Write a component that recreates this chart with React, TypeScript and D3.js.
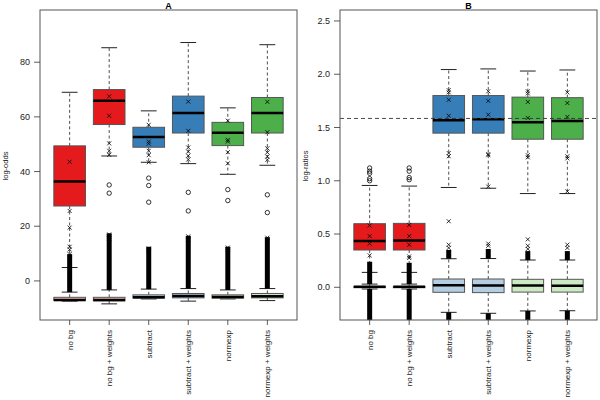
import React from 'react';
import * as d3 from 'd3';

const categories = ['no bg', 'no bg + weights', 'subtract', 'subtract + weights', 'normexp', 'normexp + weights'];
const darkColors = ['#E41A1C', '#E41A1C', '#377EB8', '#377EB8', '#4DAF4A', '#4DAF4A'];
const lightColors = ['#FBB4AE', '#FBB4AE', '#B3CDE3', '#B3CDE3', '#CCEBC5', '#CCEBC5'];

// Panel A: log-odds, boxes of DE genes
const aDeLow = [4.9, 45.7, 43.4, 42.9, 39.0, 42.3];
const aDeQ1 = [27.4, 57.2, 48.9, 54.1, 49.5, 54.1];
const aDeMed = [36.4, 65.9, 52.6, 61.4, 54.2, 61.4];
const aDeQ3 = [49.4, 70.0, 56.2, 67.6, 58.0, 67.1];
const aDeHigh = [69.0, 85.3, 62.2, 87.2, 63.3, 86.4];
const aDeOutliers = [[], [35.1, 32.1], [37.6, 34.9, 28.8], [32.4, 25.6], [33.4, 29.4], [31.5, 25.0]];
// Panel A: boxes of non-DE genes
const aNullLow = [-7.4, -8.4, -6.6, -7.4, -6.6, -7.2];
const aNullQ1 = [-7.2, -7.3, -6.3, -6.2, -6.3, -6.2];
const aNullMed = [-7.0, -7.0, -6.0, -5.5, -5.9, -5.6];
const aNullQ3 = [-6.0, -6.0, -5.1, -4.6, -5.1, -4.6];
const aNullHigh = [-4.1, -3.3, -3.0, -2.8, -3.3, -2.8];
const aNullOutMax = [9.8, 17.4, 12.5, 16.5, 12.5, 16.0];
const aNullOutMin = [-7.4, -8.4, -6.6, -7.4, -6.6, -7.2];
// Panel A: marked spike-ins
const aMarked = [
  [43.6, 25.6, 19.5, 12.5, 11.5, 9.8],
  [67.5, 60.4, 50.3, 47.6, 46.1, 17.0, 16.2, 15.5],
  [57.1, 51.0, 50.2, 47.6, 46.0, 43.4, 11.8, 11.0],
  [65.6, 54.9, 48.8, 47.3, 45.8, 44.4, 16.3, 15.2],
  [58.6, 51.6, 51.0, 47.1, 43.0, 12.2, 11.5],
  [65.5, 54.4, 48.5, 47.0, 45.5, 44.3, 15.8, 15.0],
];
const aTicks = [0, 20, 40, 60, 80];

// Panel B: log-ratios
const bDeLow = [0.14, 0.14, 0.937, 0.93, 0.88, 0.88];
const bDeQ1 = [0.35, 0.35, 1.447, 1.447, 1.39, 1.39];
const bDeMed = [0.434, 0.44, 1.569, 1.578, 1.55, 1.56];
const bDeQ3 = [0.597, 0.6, 1.8, 1.8, 1.785, 1.78];
const bDeHigh = [0.956, 0.95, 2.044, 2.05, 2.03, 2.04];
const bDeOutliers = [[1.12, 1.09, 1.07, 1.02, 1.0], [1.12, 1.09, 1.03, 1.01], [], [], [], []];
const bNullLow = [-0.016, -0.016, -0.235, -0.244, -0.222, -0.22];
const bNullQ1 = [-0.004, -0.004, -0.047, -0.05, -0.045, -0.045];
const bNullMed = [0.004, 0.004, 0.019, 0.017, 0.017, 0.015];
const bNullQ3 = [0.008, 0.008, 0.078, 0.078, 0.075, 0.075];
const bNullHigh = [0.03, 0.03, 0.268, 0.27, 0.256, 0.256];
const bNullOutMax = [0.24, 0.23, 0.35, 0.36, 0.34, 0.34];
const bNullOutMin = [-0.35, -0.35, -0.35, -0.35, -0.35, -0.35];
const bMarked = [
  [0.58, 0.48, 0.41, 0.3],
  [0.585, 0.48, 0.4, 0.29, 0.275],
  [1.85, 1.83, 1.76, 1.61, 1.26, 1.23, 0.62, 0.4, 0.37],
  [1.84, 1.75, 1.62, 1.25, 1.24, 0.945, 0.41, 0.39],
  [1.84, 1.82, 1.74, 1.59, 1.24, 1.22, 0.45, 0.39, 0.36],
  [1.83, 1.73, 1.6, 1.23, 1.21, 0.9, 0.4, 0.37],
];
const bTicks = [0, 0.5, 1, 1.5, 2, 2.5];
const bRefLine = Math.log2(3);

const FONT = '"Liberation Sans", Arial, Helvetica, sans-serif';
const TOP = 10;
const BOTTOM = 320;

type Stats = { low: number[]; q1: number[]; med: number[]; q3: number[]; high: number[] };

type PanelProps = {
  id: string;
  left: number;
  right: number;
  title: string;
  yLabel: string;
  domain: [number, number];
  ticks: number[];
  fmt: (v: number) => string;
  de: Stats;
  deOut: number[][];
  nul: Stats;
  outMax: number[];
  outMin: number[];
  marked: number[][];
  refLine?: number;
};

const Panel = (p: PanelProps) => {
  const x = d3.scaleLinear().domain([0.25, 6.75]).range([p.left, p.right]);
  const y = d3.scaleLinear().domain(p.domain).range([BOTTOM, TOP]);
  const half = x(1.4) - x(1); // box half width (boxwex 0.8)
  const cap = half / 2;
  const dash = '3,2.5';

  const drawBox = (s: Stats, i: number, fill: string, key: string) => {
    const cx = x(i + 1);
    return (
      <g key={key}>
        <line x1={cx} x2={cx} y1={y(s.q3[i])} y2={y(s.high[i])} stroke="#222" strokeWidth={0.8} strokeDasharray={dash} />
        <line x1={cx} x2={cx} y1={y(s.q1[i])} y2={y(s.low[i])} stroke="#222" strokeWidth={0.8} strokeDasharray={dash} />
        <line x1={cx - cap} x2={cx + cap} y1={y(s.high[i])} y2={y(s.high[i])} stroke="#222" strokeWidth={1} />
        <line x1={cx - cap} x2={cx + cap} y1={y(s.low[i])} y2={y(s.low[i])} stroke="#222" strokeWidth={1} />
        <rect x={cx - half} width={half * 2} y={y(s.q3[i])} height={Math.max(0.5, y(s.q1[i]) - y(s.q3[i]))}
          fill={fill} stroke="#555" strokeWidth={1} />
        <line x1={cx - half} x2={cx + half} y1={y(s.med[i])} y2={y(s.med[i])} stroke="#000" strokeWidth={2.5} />
      </g>
    );
  };

  return (
    <g>
      <defs>
        <clipPath id={`clip-${p.id}`}>
          <rect x={p.left} y={TOP} width={p.right - p.left} height={BOTTOM - TOP} />
        </clipPath>
      </defs>
      <g clipPath={`url(#clip-${p.id})`}>
        {categories.map((c, i) => drawBox(p.de, i, darkColors[i], `de-${c}`))}
        {categories.map((c, i) =>
          p.deOut[i].map((v, j) => (
            <circle key={`o-${i}-${j}`} cx={x(i + 1)} cy={y(v)} r={2.2} fill="none" stroke="#000" strokeWidth={0.8} />
          ))
        )}
        {categories.map((c, i) => drawBox(p.nul, i, lightColors[i], `nu-${c}`))}
        {categories.map((c, i) => (
          <g key={`band-${c}`}>
            <line x1={x(i + 1)} x2={x(i + 1)} y1={y(p.nul.high[i])} y2={y(p.outMax[i])} stroke="#000" strokeWidth={5} />
            {p.outMin[i] < p.nul.low[i] && (
              <line x1={x(i + 1)} x2={x(i + 1)} y1={y(p.nul.low[i])} y2={y(p.outMin[i])} stroke="#000" strokeWidth={5} />
            )}
          </g>
        ))}
        {categories.map((c, i) =>
          p.marked[i].map((v, j) => {
            const cx = x(i + 1);
            const cy = y(v);
            const s = 2;
            return (
              <path key={`m-${i}-${j}`} d={`M${cx - s},${cy - s}L${cx + s},${cy + s}M${cx - s},${cy + s}L${cx + s},${cy - s}`}
                stroke="#000" strokeWidth={0.8} />
            );
          })
        )}
        {p.refLine !== undefined && (
          <line x1={p.left} x2={p.right} y1={y(p.refLine)} y2={y(p.refLine)} stroke="#333" strokeWidth={0.9} strokeDasharray="4,3" />
        )}
      </g>
      <rect x={p.left} y={TOP} width={p.right - p.left} height={BOTTOM - TOP} fill="none" stroke="#555" strokeWidth={1} />
      {p.ticks.map(t => (
        <g key={`yt-${t}`}>
          <line x1={p.left - 6} x2={p.left} y1={y(t)} y2={y(t)} stroke="#333" strokeWidth={0.8} />
          <text x={p.left - 10} y={y(t)} dy="0.35em" textAnchor="end" fontSize={9} fontFamily={FONT} fill="#222">{p.fmt(t)}</text>
        </g>
      ))}
      {categories.map((c, i) => (
        <g key={`xt-${c}`}>
          <line x1={x(i + 1)} x2={x(i + 1)} y1={BOTTOM} y2={BOTTOM + 5} stroke="#333" strokeWidth={0.8} />
          <text transform={`translate(${x(i + 1) + 3},${BOTTOM + 10}) rotate(-90)`} textAnchor="end" fontSize={8}
            fontFamily={FONT} fill="#222">{c}</text>
        </g>
      ))}
      <text x={(p.left + p.right) / 2} y={8.5} textAnchor="middle" fontSize={9} fontWeight="bold" fontFamily={FONT}>{p.title}</text>
      <text transform={`translate(${p.left - 32},${(TOP + BOTTOM) / 2 + 1}) rotate(-90)`} textAnchor="middle" fontSize={7.5}
        fontFamily={FONT} fill="#222">{p.yLabel}</text>
    </g>
  );
};

export default function App() {
  return (
    <svg width={600} height={400} style={{ position: 'absolute', left: 0, top: 0, background: '#fff' }}>
      <Panel id="a" left={40} right={297} title="A" yLabel="log-odds" domain={[-14.3, 99.1]} ticks={aTicks}
        fmt={d3.format('d')}
        de={{ low: aDeLow, q1: aDeQ1, med: aDeMed, q3: aDeQ3, high: aDeHigh }} deOut={aDeOutliers}
        nul={{ low: aNullLow, q1: aNullQ1, med: aNullMed, q3: aNullQ3, high: aNullHigh }}
        outMax={aNullOutMax} outMin={aNullOutMin} marked={aMarked} />
      <Panel id="b" left={340} right={597} title="B" yLabel="log-ratios" domain={[-0.307, 2.603]} ticks={bTicks}
        fmt={d3.format('.1f')}
        de={{ low: bDeLow, q1: bDeQ1, med: bDeMed, q3: bDeQ3, high: bDeHigh }} deOut={bDeOutliers}
        nul={{ low: bNullLow, q1: bNullQ1, med: bNullMed, q3: bNullQ3, high: bNullHigh }}
        outMax={bNullOutMax} outMin={bNullOutMin} marked={bMarked} refLine={bRefLine} />
    </svg>
  );
}
